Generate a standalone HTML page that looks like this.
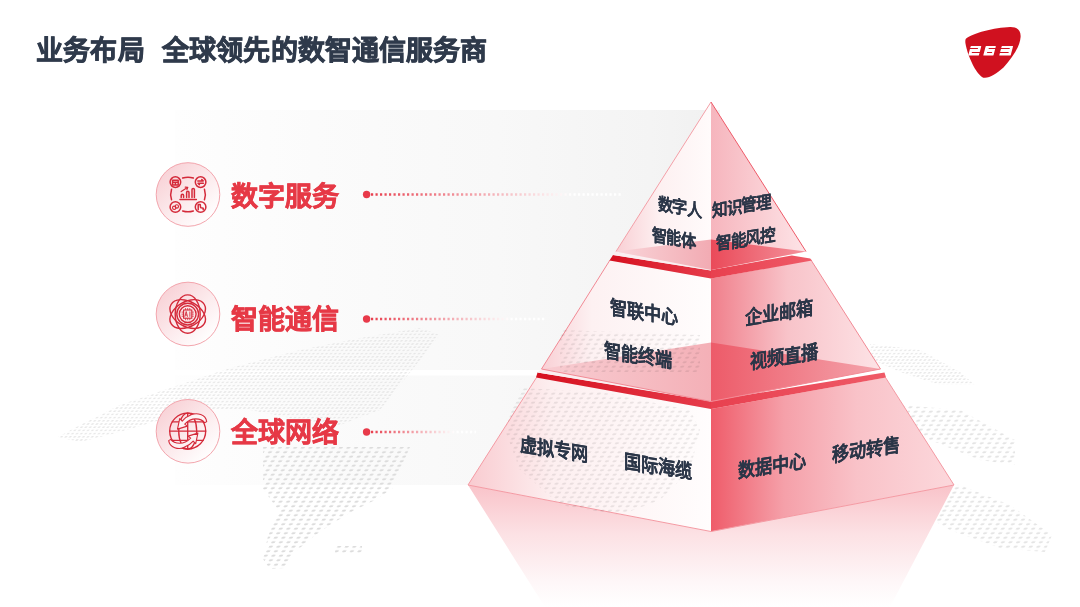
<!DOCTYPE html>
<html lang="zh-CN">
<head>
<meta charset="utf-8">
<style>
html,body{margin:0;padding:0;background:#fff;}
body{width:1080px;height:607px;position:relative;overflow:hidden;font-family:"Liberation Sans",sans-serif;}
.abs{position:absolute;white-space:nowrap;}
#title{left:36px;top:29px;font-size:27px;font-weight:bold;color:#2f3a4b;-webkit-text-stroke:0.8px #2f3a4b;letter-spacing:0.2px;}
.lab{font-size:27px;font-weight:bold;color:#e63946;-webkit-text-stroke:0.6px #e63946;left:231px;}
.pt{font-size:19.5px;font-weight:bold;color:#2b3648;-webkit-text-stroke:0.1px #2b3648;letter-spacing:-0.5px;line-height:1;transform-origin:0 0;}
.t1{font-size:17.5px;letter-spacing:-0.5px;}
.pl{transform:skewY(9deg) scaleX(0.88);}
.t1.pl{transform:skewY(9deg) scaleX(0.87);}
.pr{transform:skewY(-9deg) scaleX(0.88);}
.t1.pr{transform:skewY(-9deg) scaleX(0.89);}
svg{position:absolute;left:0;top:0;}
</style>
</head>
<body>
<svg width="1080" height="607" viewBox="0 0 1080 607">
<defs>
  <linearGradient id="band" x1="175" x2="711" y1="0" y2="0" gradientUnits="userSpaceOnUse">
    <stop offset="0" stop-color="#fefefe"/>
    <stop offset="0.26" stop-color="#fbfbfb"/>
    <stop offset="0.6" stop-color="#f8f8f8"/>
    <stop offset="0.886" stop-color="#f4f4f4"/>
    <stop offset="1" stop-color="#f1f1f1"/>
  </linearGradient>
  <linearGradient id="dl1" x1="371" x2="622" y1="0" y2="0" gradientUnits="userSpaceOnUse">
    <stop offset="0" stop-color="#e8404f"/><stop offset="0.55" stop-color="#f6c2c7"/><stop offset="0.8" stop-color="#ffffff"/><stop offset="1" stop-color="#ffffff"/>
  </linearGradient>
  <linearGradient id="dl2" x1="371" x2="546" y1="0" y2="0" gradientUnits="userSpaceOnUse">
    <stop offset="0" stop-color="#e8404f"/><stop offset="0.55" stop-color="#f6c2c7"/><stop offset="0.8" stop-color="#ffffff"/><stop offset="1" stop-color="#ffffff"/>
  </linearGradient>
  <linearGradient id="dl3" x1="371" x2="476" y1="0" y2="0" gradientUnits="userSpaceOnUse">
    <stop offset="0" stop-color="#e8404f"/><stop offset="0.55" stop-color="#f6c2c7"/><stop offset="0.8" stop-color="#ffffff"/><stop offset="1" stop-color="#ffffff"/>
  </linearGradient>
  <!-- top tier -->
  <linearGradient id="lf1" x1="616" y1="0" x2="711" y2="0" gradientUnits="userSpaceOnUse">
    <stop offset="0" stop-color="#f9cfd4"/><stop offset="0.45" stop-color="#fdf0f1"/><stop offset="1" stop-color="#fffbfb"/>
  </linearGradient>
  <linearGradient id="rf1" x1="711" y1="0" x2="806" y2="0" gradientUnits="userSpaceOnUse">
    <stop offset="0" stop-color="#f6b5bd"/><stop offset="1" stop-color="#fde4e7"/>
  </linearGradient>
  <linearGradient id="lfl1" x1="616" y1="0" x2="711" y2="0" gradientUnits="userSpaceOnUse">
    <stop offset="0" stop-color="#f9d5d9"/><stop offset="1" stop-color="#f2abb3"/>
  </linearGradient>
  <linearGradient id="rfl1" x1="711" y1="0" x2="806" y2="0" gradientUnits="userSpaceOnUse">
    <stop offset="0" stop-color="#ea4a59"/><stop offset="1" stop-color="#f4929c"/>
  </linearGradient>
  <!-- middle tier -->
  <linearGradient id="lf2" x1="541" y1="0" x2="711" y2="0" gradientUnits="userSpaceOnUse">
    <stop offset="0" stop-color="#f9cfd4"/><stop offset="0.3" stop-color="#fdf1f2"/><stop offset="1" stop-color="#fffdfd"/>
  </linearGradient>
  <linearGradient id="rf2" x1="711" y1="0" x2="881" y2="0" gradientUnits="userSpaceOnUse">
    <stop offset="0" stop-color="#f07f8b"/><stop offset="0.45" stop-color="#f8c3c9"/><stop offset="1" stop-color="#fde3e6"/>
  </linearGradient>
  <linearGradient id="lfl2" x1="541" y1="0" x2="711" y2="0" gradientUnits="userSpaceOnUse">
    <stop offset="0" stop-color="#f8cdd2"/><stop offset="1" stop-color="#f4b0b7"/>
  </linearGradient>
  <linearGradient id="rfl2" x1="711" y1="0" x2="881" y2="0" gradientUnits="userSpaceOnUse">
    <stop offset="0" stop-color="#ed5b69"/><stop offset="1" stop-color="#f4a4ac"/>
  </linearGradient>
  <!-- bottom tier -->
  <linearGradient id="lf3" x1="468" y1="0" x2="711" y2="0" gradientUnits="userSpaceOnUse">
    <stop offset="0" stop-color="#f9cbd0"/><stop offset="0.35" stop-color="#fdeff0"/><stop offset="1" stop-color="#fffdfd"/>
  </linearGradient>
  <linearGradient id="rf3" x1="711" y1="0" x2="954" y2="0" gradientUnits="userSpaceOnUse">
    <stop offset="0" stop-color="#ef5c6a"/><stop offset="0.3" stop-color="#f5a0a9"/><stop offset="0.6" stop-color="#f9c2c8"/><stop offset="1" stop-color="#fcd8dc"/>
  </linearGradient>
  <!-- red slabs -->
  <linearGradient id="sl1" x1="609" y1="0" x2="711" y2="0" gradientUnits="userSpaceOnUse">
    <stop offset="0" stop-color="#d6101f"/><stop offset="1" stop-color="#e63c4b"/>
  </linearGradient>
  <linearGradient id="sr1" x1="711" y1="0" x2="812" y2="0" gradientUnits="userSpaceOnUse">
    <stop offset="0" stop-color="#e8404f"/><stop offset="1" stop-color="#ef5a67"/>
  </linearGradient>
  <linearGradient id="sl2" x1="536" y1="0" x2="711" y2="0" gradientUnits="userSpaceOnUse">
    <stop offset="0" stop-color="#d6101f"/><stop offset="1" stop-color="#e63c4b"/>
  </linearGradient>
  <linearGradient id="sr2" x1="711" y1="0" x2="886" y2="0" gradientUnits="userSpaceOnUse">
    <stop offset="0" stop-color="#e8404f"/><stop offset="1" stop-color="#ef5a67"/>
  </linearGradient>
  <linearGradient id="refl" x1="0" y1="485" x2="0" y2="607" gradientUnits="userSpaceOnUse">
    <stop offset="0" stop-color="#f9c3c9"/>
    <stop offset="0.4" stop-color="#fce1e4"/>
    <stop offset="0.8" stop-color="#fef7f8"/>
    <stop offset="1" stop-color="#ffffff"/>
  </linearGradient>
  <linearGradient id="cg" x1="0.1" y1="0.1" x2="0.85" y2="0.9">
    <stop offset="0" stop-color="#f8d0d5"/>
    <stop offset="0.55" stop-color="#fcebed"/>
    <stop offset="1" stop-color="#ffffff"/>
  </linearGradient>
  <pattern id="dots" width="7.6" height="4.5" patternUnits="userSpaceOnUse" patternTransform="skewX(-29)">
    <ellipse cx="3.8" cy="2.25" rx="2" ry="1.05" fill="#dcdcdc"/>
  </pattern>
  <pattern id="dots2" width="4.4" height="3.2" patternUnits="userSpaceOnUse" patternTransform="skewX(-35)">
    <ellipse cx="2.2" cy="1.6" rx="1.3" ry="0.75" fill="#e2e2e2"/>
  </pattern>
</defs>

<!-- background bands -->
<rect x="175" y="110" width="545" height="148" fill="url(#band)"/>
<rect x="175" y="258" width="545" height="112" fill="url(#band)"/>
<rect x="175" y="375.5" width="545" height="109.5" fill="url(#band)"/>

<!-- world map dots -->
<g fill="url(#dots2)" opacity="0.85">
<polygon points="58,437 80,425 120,405 170,388 230,368 300,350 360,338 420,328 440,335 420,360 400,385 380,410 340,425 300,420 250,410 200,410 160,420 120,432 80,442"/>
<polygon points="870,344 920,350 960,372 975,385 940,385 900,372 872,360"/>
</g>
<g fill="url(#dots)">

<polygon points="263,447 410,447 400,470 392,489 375,500 353,511 330,525 314,536 295,552 285,568 270,569 263,559 268,536 279,511 263,489"/>
<polygon points="335,546 362,546 362,554 335,554"/>
<g opacity="0.75">
<polygon points="900,405 960,410 1015,440 1015,465 980,460 930,440 905,425"/>
<polygon points="905,480 960,485 1010,505 1052,535 1045,552 1000,548 950,530 915,510"/>
</g>
</g>

<!-- reflection -->
<polygon points="468,485 711,531.5 954,485 890,607 545,607" fill="url(#refl)"/>

<!-- bottom tier -->
<polygon points="536.5,377.5 711,409 711,531.5 468,485" fill="url(#lf3)"/>
<polygon points="711,409 885.5,377.5 954,485 711,531.5" fill="url(#rf3)"/>
<polyline points="536.5,377.5 468,485 711,531.5 954,485 885.5,377.5" fill="none" stroke="#f49aa3" stroke-width="1"/>

<!-- slab 2 -->
<polygon points="537.5,372.5 711,400.7 711,409 536,377.5" fill="url(#sl2)"/>
<polygon points="711,400.7 884.5,372.5 886,377.5 711,409" fill="url(#sr2)"/>
<polygon points="541.5,369 711,401.5 711,401.2 537.5,372.5" fill="#fbeef0"/>

<!-- middle tier -->
<polygon points="610,260 711,278.5 711,401.5 541.5,369" fill="url(#lf2)"/>
<polygon points="711,278.5 811,260 880.5,369 711,401.5" fill="url(#rf2)"/>
<polygon points="541.5,369 711,342.5 711,401.5" fill="url(#lfl2)"/>
<polygon points="711,342.5 880.5,369 711,401.5" fill="url(#rfl2)"/>
<polyline points="610,260 541.5,369 711,401.5 880.5,369 811,260" fill="none" stroke="#f28a95" stroke-width="1"/>

<!-- slab 1 -->
<polygon points="613,255 711,270.5 711,278.5 609.5,260.5" fill="url(#sl1)"/>
<polygon points="711,270 791.8,255.5 810.2,258.6 812,260.5 711,278.5" fill="url(#sr1)"/>
<polygon points="616,251.5 711,270 711,270.6 613,255" fill="#fbeef0"/>

<!-- top tier -->
<polygon points="711,102 711,270 616,251.5" fill="url(#lf1)"/>
<polygon points="711,102 806,251.5 711,270" fill="url(#rf1)"/>
<polygon points="616,251.5 711,239.5 711,270" fill="url(#lfl1)"/>
<polygon points="711,239.5 806,251.5 711,270" fill="url(#rfl1)"/>
<line x1="616" y1="251.5" x2="711" y2="102" stroke="#f4a0a8" stroke-width="1"/>
<line x1="711" y1="102" x2="806" y2="251.5" stroke="#ee5a68" stroke-width="1"/>

<!-- map dots seen through faces -->
<g fill="url(#dots)" opacity="0.6" style="mix-blend-mode:multiply">
<polygon points="560,330 700,335 700,372 560,372"/>
<polygon points="520,388 600,392 690,410 700,430 690,470 660,500 620,515 560,505 520,470 505,430"/>
</g>

<!-- dotted lines -->
<circle cx="366.6" cy="194.5" r="3.7" fill="#e83a4a"/>
<line x1="371" y1="194.5" x2="622" y2="194.5" stroke="url(#dl1)" stroke-width="2.4" stroke-dasharray="2.2 2.3"/>
<circle cx="366.6" cy="319" r="3.7" fill="#e83a4a"/>
<line x1="371" y1="319" x2="546" y2="319" stroke="url(#dl2)" stroke-width="2.4" stroke-dasharray="2.2 2.3"/>
<circle cx="366.6" cy="432" r="3.7" fill="#e83a4a"/>
<line x1="371" y1="432" x2="476" y2="432" stroke="url(#dl3)" stroke-width="2.4" stroke-dasharray="2.2 2.3"/>

<!-- circles -->
<circle cx="188" cy="194.5" r="31.8" fill="url(#cg)" stroke="#f3a5ad" stroke-width="1"/>
<circle cx="188" cy="314" r="31.8" fill="url(#cg)" stroke="#f3a5ad" stroke-width="1"/>
<circle cx="188" cy="431.3" r="31.8" fill="url(#cg)" stroke="#f3a5ad" stroke-width="1"/>

<!-- logo -->
<path d="M965.9,38.8 C972,33 995,27.5 1010,26.9 C1017,26.7 1021,30 1020.6,37 C1020,47 1012,58 1003.5,67.5 C997,73 990,78 984.7,77.8 C981,77.6 978,73 974.8,68.4 C970,60 966.5,50 965.4,43 C965.2,41 965.3,39.6 965.9,38.8 Z" fill="#d0111f"/>
<g transform="translate(0,55.5) skewX(-15) translate(0,-55.5)" fill="#ffffff"><rect x="968.2" y="45.9" width="10.6" height="9.6" rx="0.6"/><rect x="983.2" y="45.9" width="10.2" height="9.6" rx="0.6"/><rect x="999.2" y="45.9" width="11.4" height="9.6" rx="0.6"/><rect x="967.6" y="47.9" width="8.4" height="1.1" fill="#d0111f"/><rect x="971.0" y="51.9" width="8.6" height="1.1" fill="#d0111f"/><rect x="986.8" y="47.9" width="7.4" height="1.1" fill="#d0111f"/><rect x="986.3" y="51.9" width="5.0" height="1.1" fill="#d0111f"/><rect x="998.6" y="47.9" width="9.2" height="1.1" fill="#d0111f"/><rect x="998.6" y="51.9" width="9.2" height="1.1" fill="#d0111f"/></g>
<g fill="none" stroke="#d42a3a" stroke-width="1.5" stroke-linecap="round" stroke-linejoin="round">
<path d="M182.65,178.05 A17.3,17.3 0 0 1 193.35,178.05"/><path d="M204.45,189.15 A17.3,17.3 0 0 1 204.45,199.85"/><path d="M193.35,210.95 A17.3,17.3 0 0 1 182.65,210.95"/><path d="M171.55,199.85 A17.3,17.3 0 0 1 171.55,189.15"/>
<circle cx="175.4" cy="182.1" r="5.3"/><circle cx="200.6" cy="182.1" r="5.3"/>
<circle cx="175.4" cy="207" r="5.3"/><circle cx="200.6" cy="207" r="5.3"/>
<path d="M181.2,197.6 V195.4 A1.2,1.2 0 0 1 183.6,195.4 V197.6"/>
<path d="M186.6,197.6 V192.4 A1.2,1.2 0 0 1 189,192.4 V197.6"/>
<path d="M192,197.6 V189.6 A1.2,1.2 0 0 1 194.4,189.6 V197.6"/>
<path d="M180,199.4 H196.4"/>
<path d="M181.2,191.6 L187.4,187.6" stroke-width="1.2"/><path d="M185.2,187.1 L187.8,187.3 L186.9,189.6" stroke-width="1.2"/>
<path d="M172.6,185 V180.3 H178.2 V185 Z M172.6,182.2 H178.2 M175.4,182.2 V185"/>
<path d="M197.8,180.9 H203.2 L201.8,179.6 M203.4,183.3 H198 L199.4,184.6"/>
<circle cx="174.2" cy="207.8" r="1.7" stroke-width="1.1"/><circle cx="176.8" cy="206.4" r="1.7" stroke-width="1.1"/>
<path d="M198.2,209.8 V204.4 L200.2,204.4 L200.6,207.6 L203.2,208.3 L203.2,209.8"/>
</g>
<g fill="none" stroke="#d42a3a" stroke-width="1.4">
<ellipse cx="187.7" cy="314.1" rx="12.5" ry="19.2"/>
<ellipse cx="187.7" cy="314.1" rx="19.2" ry="12.5" transform="rotate(30 187.7 314.1)"/>
<ellipse cx="187.7" cy="314.1" rx="19.2" ry="12.5" transform="rotate(-30 187.7 314.1)"/>
<circle cx="187.7" cy="314.1" r="10.9" fill="#fbe7e9"/>
<circle cx="187.7" cy="314.1" r="8.4"/>
<rect x="183.6" y="310" width="8.2" height="8.2" stroke-width="1.1"/>
<path d="M185.6,310 V308 M187.7,310 V308 M189.8,310 V308 M185.6,318.2 V320.2 M187.7,318.2 V320.2 M189.8,318.2 V320.2 M183.6,312.1 H181.6 M183.6,314.1 H181.6 M183.6,316.2 H181.6 M191.8,312.1 H193.8 M191.8,314.1 H193.8 M191.8,316.2 H193.8" stroke-width="0.8"/>
<path d="M184.8,316.8 L186.2,311.5 L187.5,316.8 M185.3,315 H187.1 M189.9,311.5 V316.8" stroke-width="0.9"/>
</g>
<g fill="none" stroke="#d42a3a" stroke-width="1.35" stroke-linecap="round" stroke-linejoin="round">
<circle cx="187.7" cy="431.1" r="18"/>
<path d="M169.7,431.1 H205.7 M172.3,421.8 H203.1 M172.3,440.4 H203.1"/>
<ellipse cx="187.7" cy="431.1" rx="9" ry="18"/>
<path d="M187.7,413.1 V449.1"/>
<path d="M19,-9.5 C18,-17 9,-18.5 4,-16.5 C0,-15 -3,-13 -5.5,-10 L-8,-12.5 L-10.2,-2 L-0.4,-5 L-3,-7 C0,-10 5,-12.2 8,-12.2 C12,-12.2 15,-11 17,-8.3 Z" transform="translate(187.7,431.1)" fill="#fdf2f3" stroke-width="1.1"/>
<path d="M19,-9.5 C18,-17 9,-18.5 4,-16.5 C0,-15 -3,-13 -5.5,-10 L-8,-12.5 L-10.2,-2 L-0.4,-5 L-3,-7 C0,-10 5,-12.2 8,-12.2 C12,-12.2 15,-11 17,-8.3 Z" transform="translate(187.7,431.1) rotate(180)" fill="#fdf2f3" stroke-width="1.1"/>
</g>
</svg>

<div id="title" class="abs">业务布局<span style="margin-left:17.5px;letter-spacing:0.05px">全球领先的数智通信服务商</span></div>
<div class="abs lab" style="top:174.5px">数字服务</div>
<div class="abs lab" style="top:298px">智能通信</div>
<div class="abs lab" style="top:411px">全球网络</div>

<div class="abs pt t1 pl" style="left:658px;top:196px">数字人</div>
<div class="abs pt t1 pl" style="left:652px;top:227px">智能体</div>
<div class="abs pt t1 pr" style="left:712px;top:203px">知识管理</div>
<div class="abs pt t1 pr" style="left:716px;top:236px">智能风控</div>

<div class="abs pt pl" style="left:610px;top:298px">智联中心</div>
<div class="abs pt pl" style="left:603.5px;top:340.5px">智能终端</div>
<div class="abs pt pr" style="left:745px;top:309px">企业邮箱</div>
<div class="abs pt pr" style="left:749.5px;top:353px">视频直播</div>

<div class="abs pt pl" style="left:520px;top:434.5px">虚拟专网</div>
<div class="abs pt pl" style="left:623.5px;top:452px">国际海缆</div>
<div class="abs pt pr" style="left:737.5px;top:462px">数据中心</div>
<div class="abs pt pr" style="left:832px;top:446px">移动转售</div>
</body>
</html>
